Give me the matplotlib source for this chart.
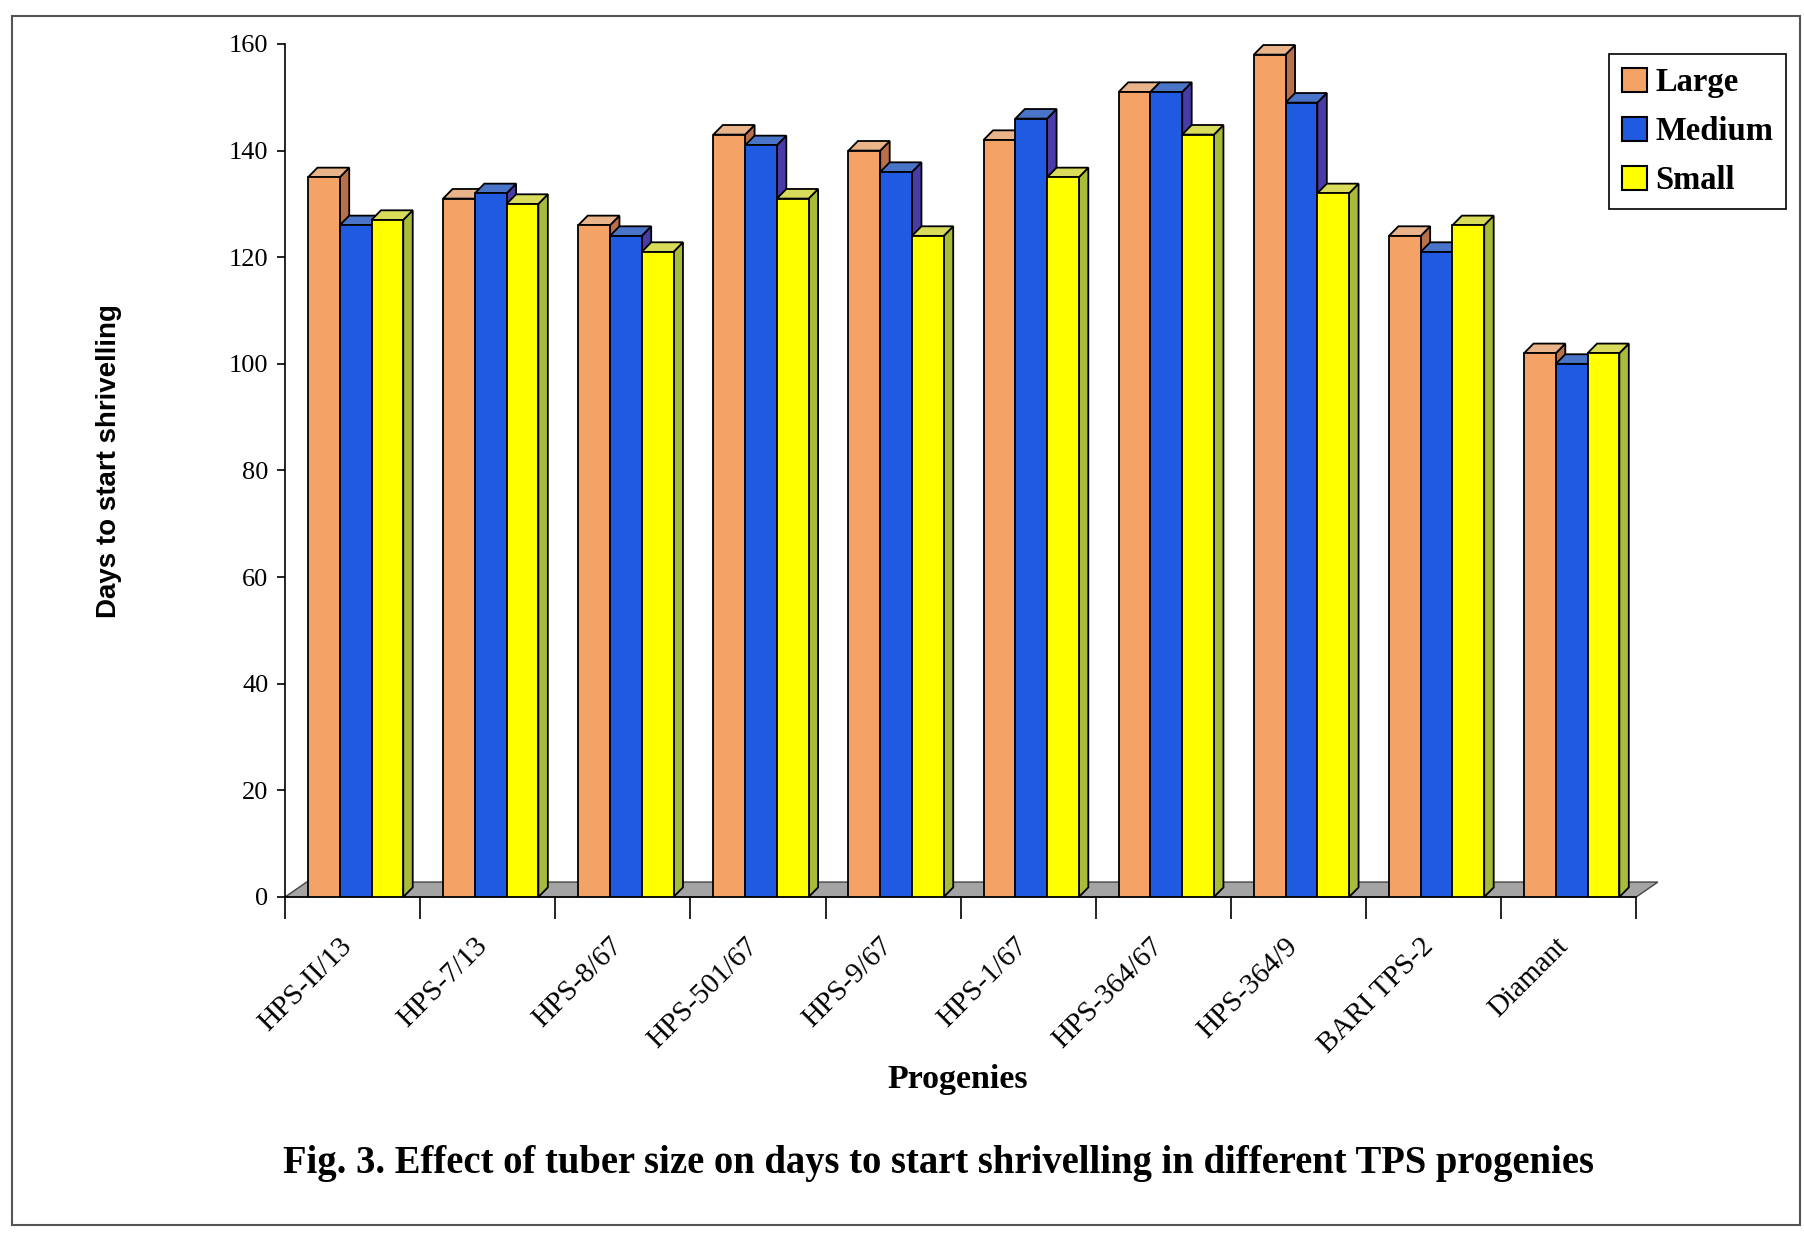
import matplotlib
matplotlib.use("Agg")
import matplotlib.pyplot as plt
from matplotlib.patches import Polygon, Patch, Rectangle

# Days to start shrivelling per progeny and tuber size
progenies = ["HPS-II/13", "HPS-7/13", "HPS-8/67", "HPS-501/67", "HPS-9/67",
             "HPS-1/67", "HPS-364/67", "HPS-364/9", "BARI TPS-2", "Diamant"]
large = [135, 131, 126, 143, 140, 142, 151, 158, 124, 102]
medium = [126, 132, 124, 141, 136, 146, 151, 149, 121, 100]
small = [127, 130, 121, 131, 124, 135, 143, 132, 126, 102]
series_names = ["Large", "Medium", "Small"]

# front / side / top shades for each series
front_cols = ["#F5A266", "#1F5AE0", "#FFFF00"]
side_cols = ["#B8704A", "#4A3CA8", "#A8BC3A"]
top_cols = ["#E9B48A", "#4A74C8", "#D8DC5A"]

serif = "Liberation Serif"
sans = "Liberation Sans"

fig = plt.figure(figsize=(18.04, 12.35), dpi=100)
ax = fig.add_axes([0.158, 0.2737, 0.749, 0.6907])

n = len(progenies)
w = 0.235          # bar width (category units)
off = 0.17         # offset of first bar inside a category
dx, dy = 0.07, 1.8  # bar depth
fdx, fdy = 0.16, 2.8  # floor depth

# floor
floor = Polygon([(0, 0), (n, 0), (n + fdx, fdy), (fdx, fdy)], closed=True,
                facecolor="#A4A4A4", edgecolor="#444444", lw=1.0, zorder=1,
                clip_on=False)
ax.add_patch(floor)

for j, vals in enumerate([large, medium, small]):
    for i, h in enumerate(vals):
        x0 = i + off + j * w
        ax.bar(x0, h, width=w, align="edge", color=front_cols[j],
               edgecolor="black", linewidth=1.3, zorder=3 + j * 0.1)
        side = Polygon([(x0 + w, 0), (x0 + w + dx, dy), (x0 + w + dx, h + dy), (x0 + w, h)],
                       closed=True, facecolor=side_cols[j], edgecolor="black",
                       lw=1.3, zorder=2.9 + j * 0.1)
        top = Polygon([(x0, h), (x0 + dx, h + dy), (x0 + w + dx, h + dy), (x0 + w, h)],
                      closed=True, facecolor=top_cols[j], edgecolor="black",
                      lw=1.3, zorder=2.95 + j * 0.1)
        ax.add_patch(side)
        ax.add_patch(top)

ax.set_xlim(0, n)
ax.set_ylim(0, 160)
ax.set_yticks(range(0, 161, 20))
ax.set_yticklabels([str(v) for v in range(0, 161, 20)], fontfamily=serif, fontsize=19)

# tick marks sit at category boundaries, labels near category centres
ax.set_xticks(range(n + 1))
ax.set_xticklabels([])
ax.set_xticks([i + 0.4 for i in range(n)], minor=True)
ax.set_xticklabels(progenies, minor=True, rotation=45, ha="right",
                   rotation_mode="anchor", fontfamily=serif, fontsize=21)
ax.tick_params(axis="x", which="major", length=16, width=1.2, direction="out")
ax.tick_params(axis="x", which="minor", length=0, pad=26)
ax.tick_params(axis="y", length=6, width=1.2, pad=6)

for s in ["top", "right"]:
    ax.spines[s].set_visible(False)
ax.spines["left"].set_linewidth(1.2)
ax.spines["bottom"].set_linewidth(1.2)
ax.set_facecolor("none")

handles = [Patch(facecolor=c, edgecolor="black", linewidth=1.5) for c in front_cols]
leg = fig.legend(handles, series_names, loc="upper right",
                 bbox_to_anchor=(0.990, 0.956), bbox_transform=fig.transFigure,
                 borderaxespad=0,
                 prop={"family": serif, "weight": "bold", "size": 23.5},
                 fancybox=False, edgecolor="black", framealpha=1,
                 handlelength=0.75, handleheight=0.75, handletextpad=0.25,
                 labelspacing=0.55, borderpad=0.4)
leg.get_frame().set_linewidth(1.2)

fig.text(0.0605, 0.627, "Days to start shrivelling", rotation=90, ha="center",
         va="center", fontfamily=sans, fontweight="bold", fontsize=20)
fig.text(0.531, 0.126, "Progenies", ha="center", va="center",
         fontfamily=serif, fontweight="bold", fontsize=24.5)
fig.text(0.520, 0.0575,
         "Fig. 3. Effect of tuber size on days to start shrivelling in different TPS progenies",
         ha="center", va="center", fontfamily=serif, fontweight="bold", fontsize=27.8)

# outer frame
fig.patches.append(Rectangle((0.0064, 0.008), 0.9916, 0.979, transform=fig.transFigure,
                             fill=False, edgecolor="#555555", lw=1.5))

fig.savefig("out.png", dpi=100)
